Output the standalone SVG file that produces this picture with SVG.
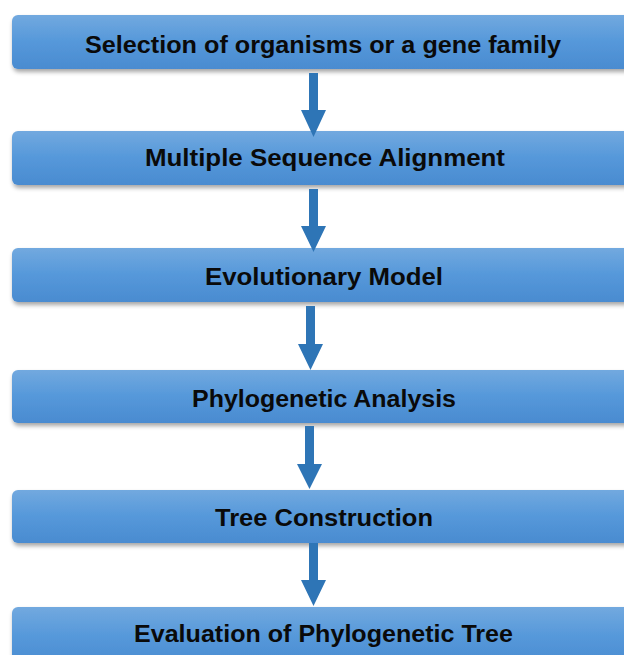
<svg xmlns="http://www.w3.org/2000/svg" width="624" height="655" viewBox="0 0 624 655">
<defs>
<linearGradient id="g" x1="0" y1="0" x2="0" y2="1">
<stop offset="0" stop-color="#72a9df"/>
<stop offset="0.5" stop-color="#5598da"/>
<stop offset="1" stop-color="#4a8bd0"/>
</linearGradient>
<filter id="sh" x="-5%" y="-20%" width="115%" height="160%">
<feDropShadow dx="1" dy="3" stdDeviation="2.2" flood-color="#000" flood-opacity="0.35"/>
</filter>
</defs>
<style>
.box{fill:url(#g);filter:url(#sh);}
.t{font-family:"Liberation Sans",Arial,sans-serif;font-weight:bold;font-size:23px;fill:#0a0a0a;text-anchor:start;}
.arr{fill:#2e75b6;}
</style>
<rect width="624" height="655" fill="#ffffff"/>
<g id="n1"><rect class="box" x="12" y="15" width="640" height="54" rx="6"/><text class="t" x="85" y="53" textLength="476" lengthAdjust="spacingAndGlyphs">Selection of organisms or a gene family</text></g>
<g id="n2"><rect class="box" x="12" y="131" width="640" height="54" rx="6"/><text class="t" x="145" y="166" textLength="360" lengthAdjust="spacingAndGlyphs">Multiple Sequence Alignment</text></g>
<g id="n3"><rect class="box" x="12" y="248" width="640" height="54" rx="6"/><text class="t" x="205" y="285" textLength="238" lengthAdjust="spacingAndGlyphs">Evolutionary Model</text></g>
<g id="n4"><rect class="box" x="12" y="370" width="640" height="53" rx="6"/><text class="t" x="192" y="407" textLength="264" lengthAdjust="spacingAndGlyphs">Phylogenetic Analysis</text></g>
<g id="n5"><rect class="box" x="12" y="490" width="640" height="53" rx="6"/><text class="t" x="215" y="526" textLength="218" lengthAdjust="spacingAndGlyphs">Tree Construction</text></g>
<g id="n6"><rect class="box" x="12" y="607" width="640" height="60" rx="6"/><text class="t" x="134" y="642" textLength="379" lengthAdjust="spacingAndGlyphs">Evaluation of Phylogenetic Tree</text></g>
<g id="connectors">
<polygon class="arr" points="309,73 318,73 318,110 326,110 313.5,137 301,110 309,110"/>
<polygon class="arr" points="309,189 318,189 318,226 326,226 313.5,252 301,226 309,226"/>
<polygon class="arr" points="306,306 315,306 315,344 323,344 310.5,370 298,344 306,344"/>
<polygon class="arr" points="305,426 314,426 314,464 322,464 309.5,489 297,464 305,464"/>
<polygon class="arr" points="309,543 318,543 318,580 326,580 313.5,606 301,580 309,580"/>
</g>
</svg>
